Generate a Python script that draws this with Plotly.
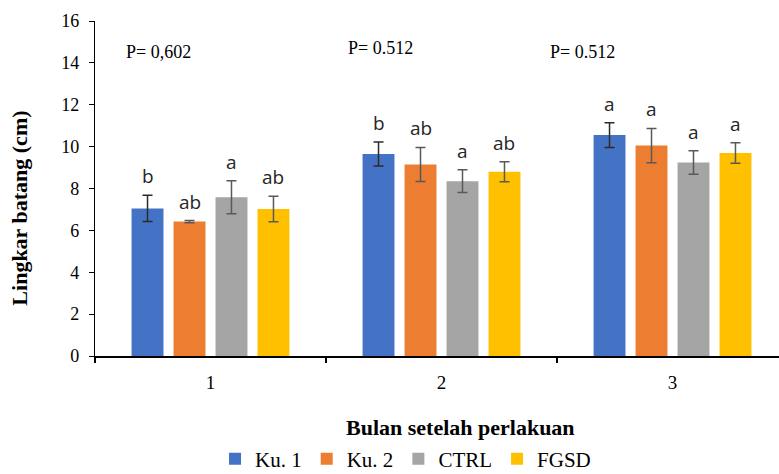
import plotly.graph_objects as go

# Stem girth (cm) per treatment, for months 1-3 after treatment
months = ["1", "2", "3"]
series_names = ["Ku. 1", "Ku. 2", "CTRL", "FGSD"]
ku1 = [7.05, 9.65, 10.55]
ku2 = [6.42, 9.15, 10.05]
ctrl = [7.58, 8.35, 9.24]
fgsd = [7.02, 8.80, 9.70]
ku1_err = [0.63, 0.57, 0.59]
ku2_err = [0.05, 0.81, 0.82]
ctrl_err = [0.79, 0.54, 0.56]
fgsd_err = [0.61, 0.48, 0.49]
ku1_letters = ["b", "b", "a"]
ku2_letters = ["ab", "ab", "a"]
ctrl_letters = ["a", "a", "a"]
fgsd_letters = ["ab", "ab", "a"]
p_labels = ["P= 0,602", "P= 0.512", "P= 0.512"]

colors = ["#4472C4", "#ED7D31", "#A5A5A5", "#FFC000"]
err_colors = ["#2b2b2b", "#595959", "#595959", "#595959"]

values = [ku1, ku2, ctrl, fgsd]
errors = [ku1_err, ku2_err, ctrl_err, fgsd_err]
letters = [ku1_letters, ku2_letters, ctrl_letters, fgsd_letters]

BARGAP = 0.273
GROUPGAP = 0.24

fig = go.Figure()
for name, vals, errs, col, ecol in zip(series_names, values, errors, colors, err_colors):
    fig.add_trace(go.Bar(
        name=name, x=months, y=vals, marker=dict(color=col, line=dict(width=0)),
        error_y=dict(type="data", array=errs, visible=True, color=ecol,
                     thickness=1.5, width=5),
    ))

# significance letters above each error bar
slot = (1 - BARGAP) / len(series_names)
annotations = []
for i, (vals, errs, labs) in enumerate(zip(values, errors, letters)):
    off = (i - (len(series_names) - 1) / 2) * slot
    for g, (v, e, lab) in enumerate(zip(vals, errs, labs)):
        annotations.append(dict(
            x=g + off, y=v + e, xref="x", yref="y", text=lab, showarrow=False,
            yanchor="bottom", yshift=4,
            font=dict(family="Open Sans", size=19, color="#262626"),
        ))

# P-values for each month
p_pos = [(-0.227, 14.52), (0.736, 14.71), (1.61, 14.52)]
for (px, py), lab in zip(p_pos, p_labels):
    annotations.append(dict(
        x=px, y=py, xref="x", yref="y", text=lab, showarrow=False,
        font=dict(family="Liberation Serif", size=18, color="black"),
    ))

annotations.append(dict(
    x=-0.1096, y=0.44, xref="paper", yref="paper", text="<b>Lingkar batang (cm)</b>",
    textangle=-90, showarrow=False, xanchor="center", yanchor="middle",
    font=dict(family="Liberation Serif", size=22, color="black"),
))
annotations.append(dict(
    x=0.535, y=-0.212, xref="paper", yref="paper", text="<b>Bulan setelah perlakuan</b>",
    showarrow=False, xanchor="center", yanchor="middle",
    font=dict(family="Liberation Serif", size=22, color="black"),
))

fig.update_layout(
    width=779, height=474,
    margin=dict(l=95, r=0, t=21, b=118, autoexpand=False),
    paper_bgcolor="white", plot_bgcolor="white",
    barmode="group", bargap=BARGAP, bargroupgap=GROUPGAP,
    annotations=annotations,
    showlegend=True,
    legend=dict(orientation="h", x=0.454, xanchor="center", y=-0.308, yanchor="middle",
                font=dict(family="Liberation Serif", size=21, color="black"),
                itemwidth=30, traceorder="normal"),
    xaxis=dict(
        type="category", range=[-0.5, 2.461], showline=True, linecolor="black", linewidth=1.5,
        ticks="outside", tickson="boundaries", ticklen=5, tickcolor="black", tickwidth=1.5,
        tickfont=dict(family="Liberation Serif", size=19, color="black"),
        ticklabelstandoff=8,
        showgrid=False, zeroline=False,
    ),
    yaxis=dict(
        range=[0, 16], dtick=2, showline=True, linecolor="black", linewidth=1.2,
        ticks="outside", ticklen=5, tickcolor="black",
        tickfont=dict(family="Liberation Serif", size=18, color="black"),
        ticklabelstandoff=6,
        showgrid=False, zeroline=False,
    ),
)

fig.write_html("out.html")
